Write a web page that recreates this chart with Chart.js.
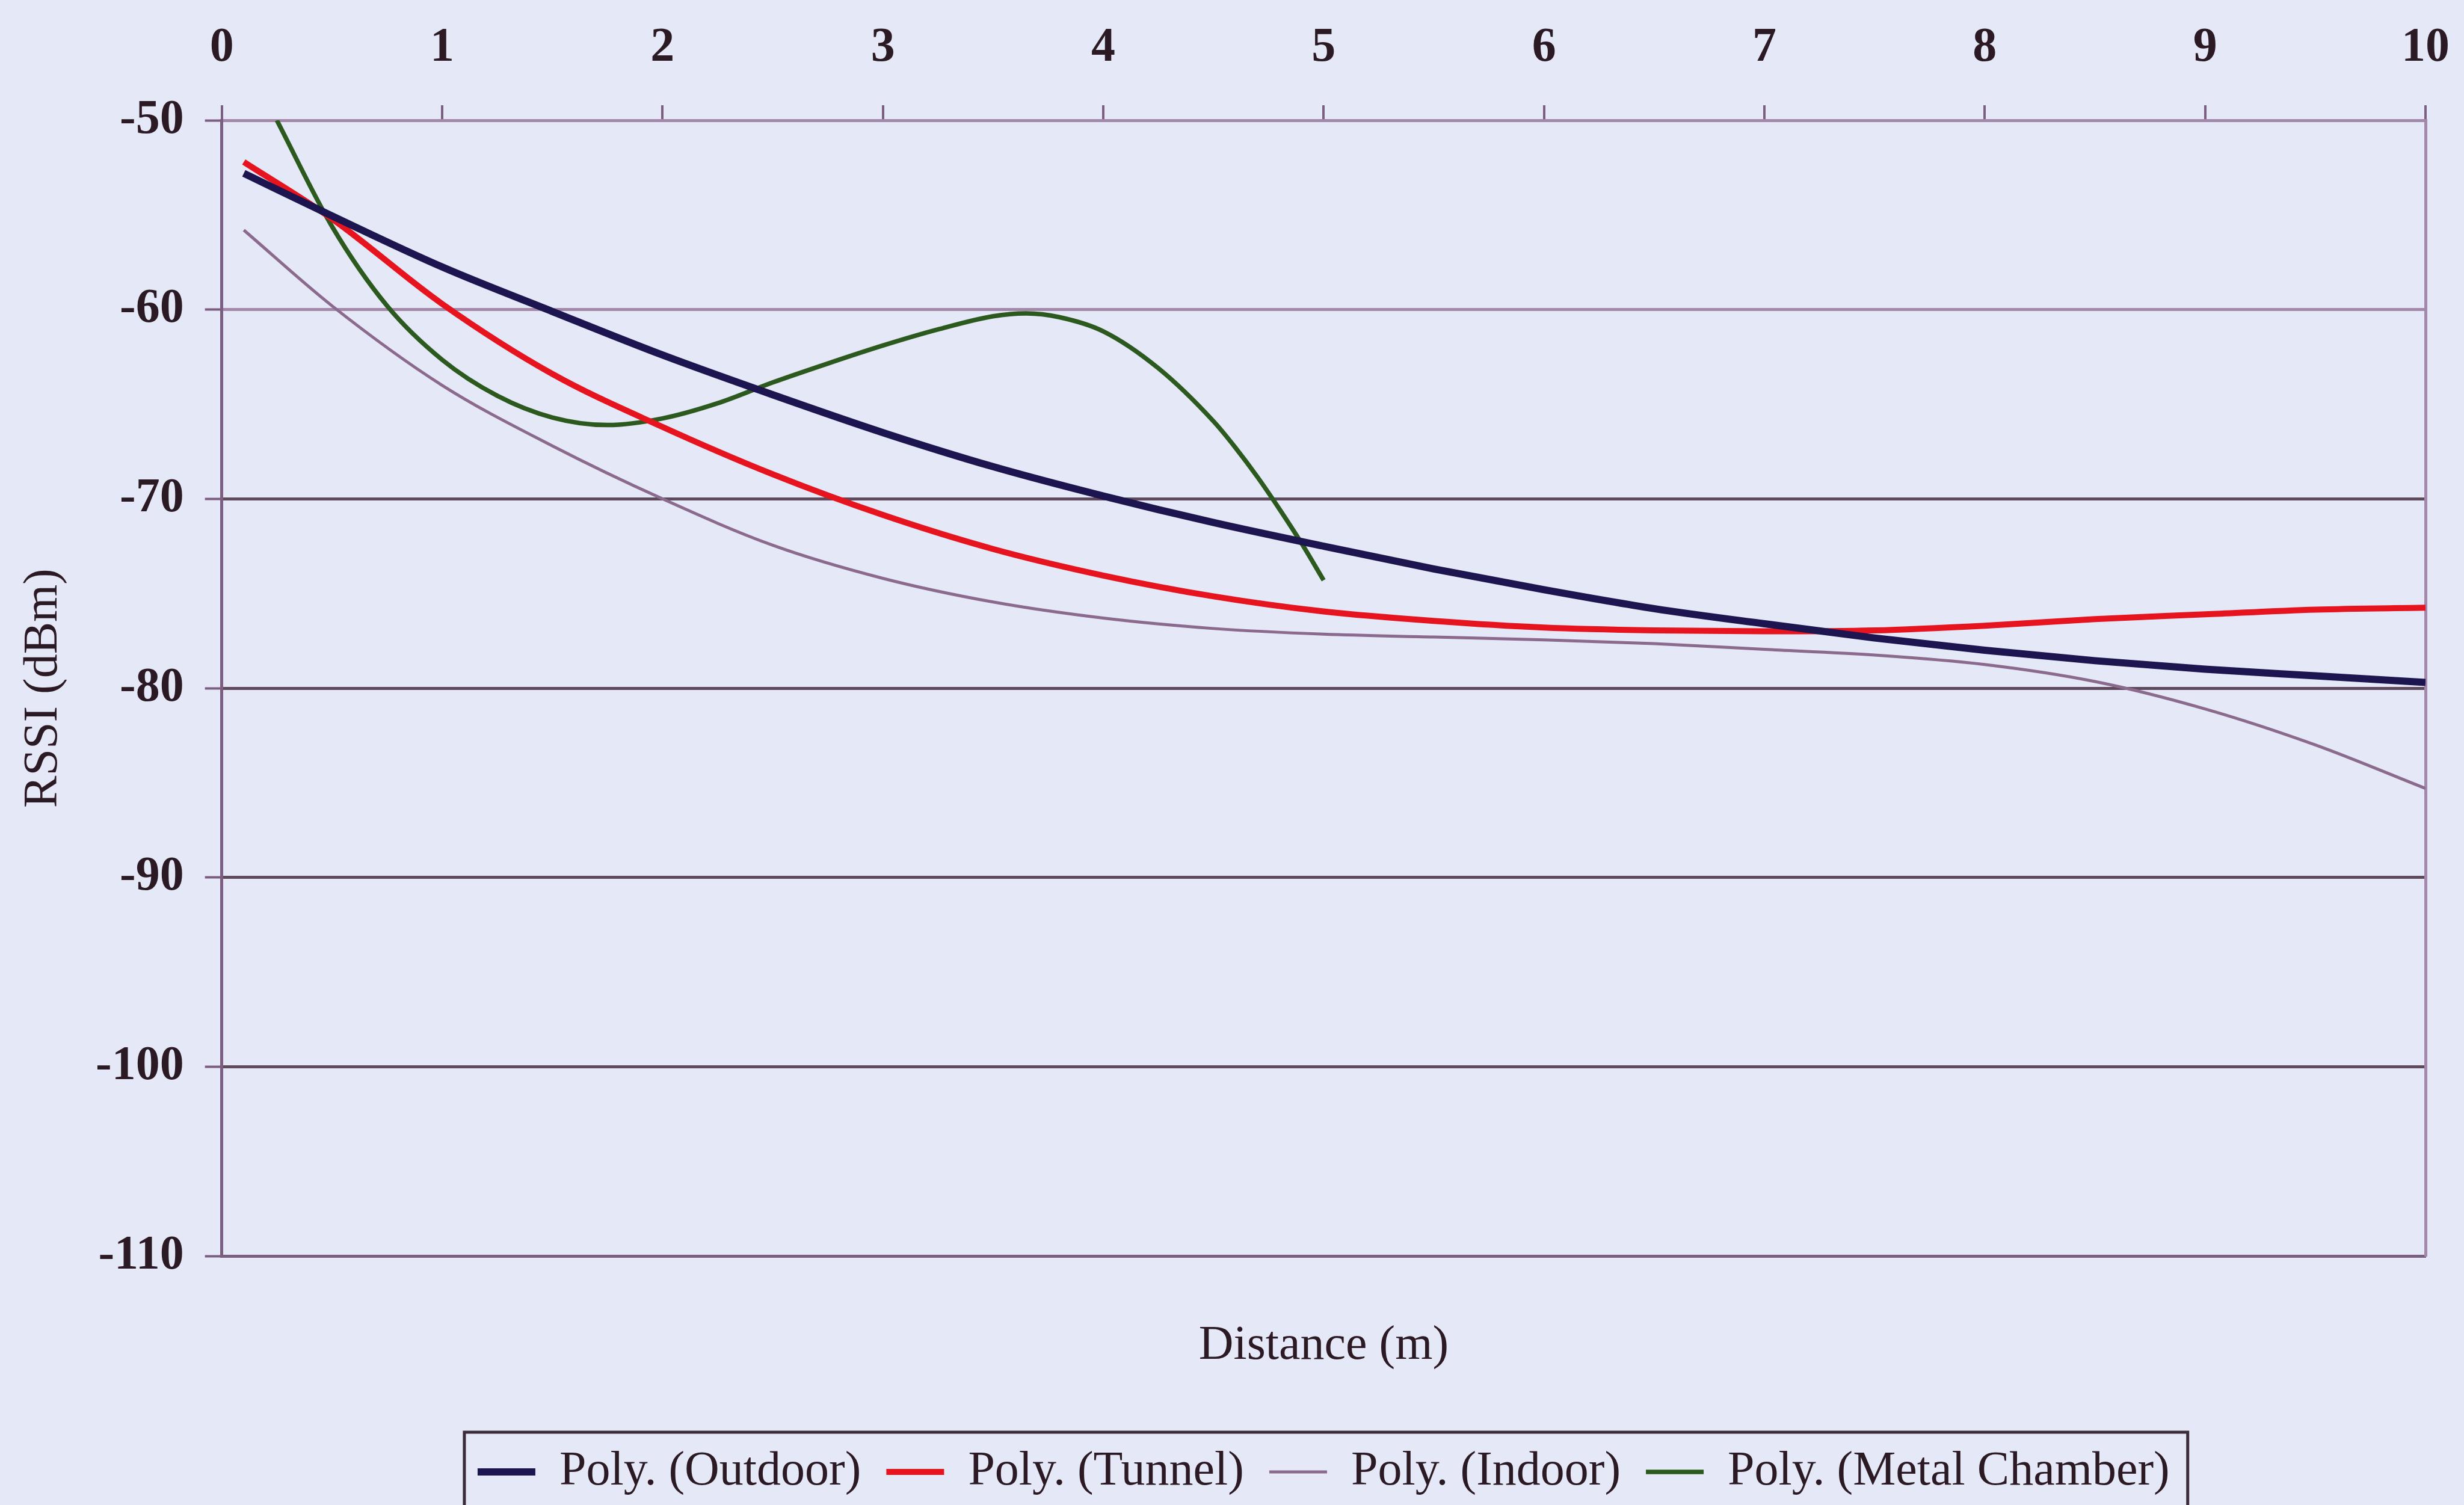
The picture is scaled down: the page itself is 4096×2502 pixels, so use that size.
<!DOCTYPE html>
<html>
<head>
<meta charset="utf-8">
<title>RSSI vs Distance</title>
<script src="https://cdn.jsdelivr.net/npm/chart.js@4.4.1/dist/chart.umd.min.js"></script>
<style>
  html, body { margin: 0; padding: 0; background: #e5e9f7; overflow: hidden; }
  #wrap { position: relative; width: 4096px; height: 2502px; }
</style>
</head>
<body>
<div id="wrap"><canvas id="chart"></canvas></div>
<script>
// Distance (m) at which the fitted curves are sampled
const distance = [0.1, 0.5, 1, 1.5, 2, 2.5, 3, 3.5, 4, 4.5, 5, 5.5, 6, 6.5, 7, 7.5, 8, 8.5, 9, 9.5, 10];

// RSSI (dBm) of the polynomial trend for each environment
const outdoorRssi = [-52.8, -55.05, -57.75, -60.1, -62.4, -64.5, -66.5, -68.3, -69.85, -71.25, -72.5,
                     -73.7, -74.8, -75.8, -76.6, -77.35, -78.0, -78.55, -79.0, -79.35, -79.7];
const tunnelRssi  = [-52.2, -55.2, -59.7, -63.4, -66.2, -68.7, -70.85, -72.65, -74.05, -75.15, -75.95,
                     -76.45, -76.8, -76.95, -77.0, -76.95, -76.7, -76.35, -76.1, -75.85, -75.75];
const indoorRssi  = [-55.8, -59.8, -64.0, -67.2, -70.0, -72.45, -74.2, -75.45, -76.3, -76.85, -77.15,
                     -77.3, -77.45, -77.65, -77.95, -78.25, -78.75, -79.65, -81.1, -83.0, -85.3];

// The metal chamber trend only covers the first five metres
const metalDistance = [0.25, 0.5, 0.75, 1, 1.25, 1.5, 1.75, 2, 2.25, 2.5, 2.75, 3, 3.25, 3.5, 3.65,
                       3.8, 4, 4.25, 4.5, 4.6, 4.7, 4.8, 4.9, 5];
const metalRssi     = [-50.0, -55.6, -59.8, -62.65, -64.55, -65.7, -66.1, -65.75, -64.95, -63.85, -62.85,
                       -61.9, -61.05, -60.35, -60.2, -60.4, -61.15, -63.1, -65.9, -67.3, -68.85, -70.55,
                       -72.35, -74.3];

const seriesNames = ['Poly. (Outdoor)', 'Poly. (Tunnel)', 'Poly. (Indoor)', 'Poly. (Metal Chamber)'];

// Axis ranges and tick spacing
const distanceRange = [0, 10];
const distanceStep = 1;
const rssiRange = [-110, -50];
const rssiStep = 10;

const toPoints = (xs, ys) => xs.map((x, i) => ({ x: x, y: ys[i] }));

const TEXT = '#2b1a24';
const AXIS = '#7c5f80';
const PALE = '#a388a9';
const GRID_DARK = '#5f4a5d';
const FONT = "'Liberation Serif', 'Times New Roman', serif";

Chart.defaults.font.family = FONT;
Chart.defaults.color = TEXT;

function curve(label, xs, ys, color, width) {
  return {
    label: label,
    data: toPoints(xs, ys),
    borderColor: color,
    backgroundColor: color,
    borderWidth: width,
    pointBorderWidth: width,
    pointRadius: 0,
    pointHoverRadius: 0,
    cubicInterpolationMode: 'monotone',
    fill: false,
    borderJoinStyle: 'round',
    xAxisID: 'x',
    yAxisID: 'y'
  };
}

// Frame drawn around the legend row
const legendFrame = {
  id: 'legendFrame',
  afterDraw(chart) {
    const lg = chart.legend;
    if (!lg || !lg.legendHitBoxes || !lg.legendHitBoxes.length) return;
    const boxes = lg.legendHitBoxes;
    const left = Math.min(...boxes.map(b => b.left)) - 22;
    const right = Math.max(...boxes.map(b => b.left + b.width)) + 30;
    const midY = boxes[0].top + boxes[0].height / 2;
    const top = midY - 66;
    const bottom = chart.height + 20;
    const ctx = chart.ctx;
    ctx.save();
    ctx.strokeStyle = '#3b2c3a';
    ctx.lineWidth = 5;
    ctx.strokeRect(left, top, right - left, bottom - top);
    ctx.restore();
  }
};

new Chart(document.getElementById('chart'), {
  type: 'line',
  data: {
    datasets: [
      curve(seriesNames[0], distance, outdoorRssi, '#1d1550', 12),
      curve(seriesNames[1], distance, tunnelRssi, '#e6141e', 10),
      curve(seriesNames[2], distance, indoorRssi, '#8c6a8e', 5),
      curve(seriesNames[3], metalDistance, metalRssi, '#2c5a1e', 7.5)
    ]
  },
  options: {
    responsive: true,
    maintainAspectRatio: false,
    animation: false,
    events: [],
    layout: { padding: { left: 0, top: -15, right: 64, bottom: 5 } },
    scales: {
      x: {
        type: 'linear',
        position: 'bottom',
        min: distanceRange[0],
        max: distanceRange[1],
        ticks: { display: false },
        grid: { display: false, drawTicks: false },
        border: { display: true, color: AXIS, width: 5 },
        title: {
          display: true,
          text: 'Distance (m)',
          color: TEXT,
          font: { size: 80, family: FONT },
          padding: { top: 102, bottom: 79 }
        }
      },
      x2: {
        type: 'linear',
        position: 'top',
        min: distanceRange[0],
        max: distanceRange[1],
        ticks: {
          stepSize: distanceStep,
          color: TEXT,
          font: { size: 80, weight: 'bold', family: FONT },
          padding: 47,
          maxRotation: 0
        },
        grid: {
          drawOnChartArea: false,
          drawTicks: true,
          tickLength: 25,
          tickColor: AXIS,
          tickWidth: 4,
          color: AXIS,
          lineWidth: 4
        },
        border: { display: true, color: PALE, width: 5 },
        // the vertical label gap should not widen the side margins
        afterFit(scale) {
          const gap = scale.options.ticks.padding;
          scale.paddingLeft = Math.max(0, scale.paddingLeft - gap);
          scale.paddingRight = Math.max(0, scale.paddingRight - gap);
        }
      },
      y: {
        type: 'linear',
        position: 'left',
        min: rssiRange[0],
        max: rssiRange[1],
        ticks: {
          stepSize: rssiStep,
          color: TEXT,
          font: { size: 80, weight: 'bold', family: FONT },
          padding: 35
        },
        grid: {
          color: ctx => (ctx.tick && ctx.tick.value >= -60) ? PALE : GRID_DARK,
          lineWidth: 5,
          tickLength: 28,
          tickColor: AXIS,
          tickWidth: 4
        },
        border: { display: true, color: AXIS, width: 5 },
        title: {
          display: true,
          text: 'RSSI (dBm)',
          color: TEXT,
          font: { size: 80, family: FONT },
          padding: { top: 25, bottom: 3 }
        }
      },
      y2: {
        type: 'linear',
        position: 'right',
        min: rssiRange[0],
        max: rssiRange[1],
        ticks: { display: false },
        grid: { display: false, drawTicks: false },
        border: { display: true, color: PALE, width: 5 }
      }
    },
    plugins: {
      title: { display: false },
      tooltip: { enabled: false },
      legend: {
        display: true,
        position: 'bottom',
        align: 'center',
        fullSize: false,
        labels: {
          color: TEXT,
          font: { size: 80, family: FONT },
          usePointStyle: true,
          pointStyle: 'line',
          pointStyleWidth: 96,
          padding: 42
        }
      }
    }
  },
  plugins: [legendFrame]
});
</script>
</body>
</html>
